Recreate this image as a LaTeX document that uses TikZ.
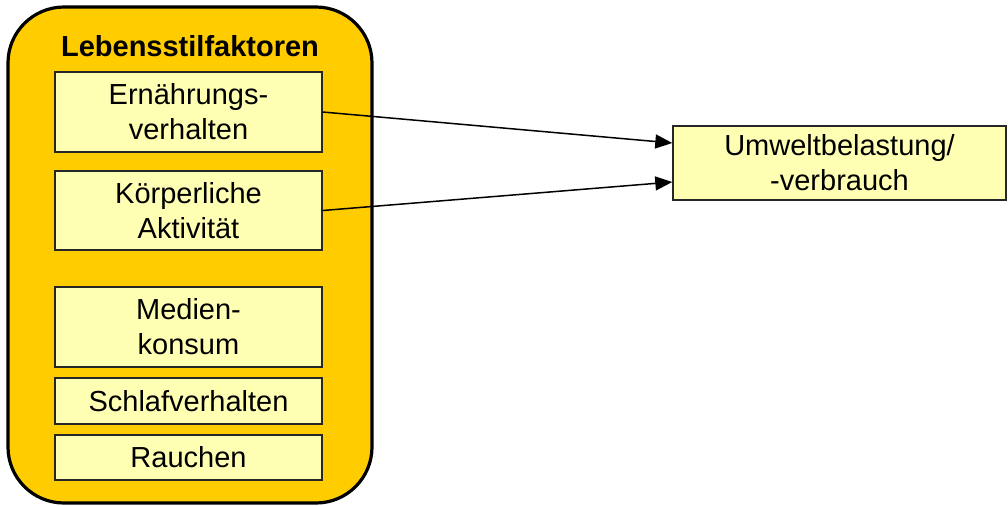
\documentclass[tikz,border=0pt]{standalone}
\usepackage{fontspec}
\setmainfont{Liberation Sans}
\usetikzlibrary{arrows.meta}
\begin{document}
\begin{tikzpicture}[x=0.5pt, y=-0.5pt,
    factor/.style={draw=black!85, line width=0.7pt, fill=paleyellow, minimum width=133.5pt,
        align=center, inner sep=0pt, font=\fontsize{14.5}{17.5}\selectfont},
    link/.style={-{Triangle[length=8.5pt, width=7pt]}, line width=0.75pt}]
    \definecolor{gold}{HTML}{FFCC00}
    \definecolor{paleyellow}{HTML}{FFFFB3}
    \useasboundingbox (0,0) rectangle (1008,505);

    \draw[fill=gold, line width=1.6pt, rounded corners=28pt] (8,7) rectangle (372,503);
    \node[font=\fontsize{14.5}{17.5}\selectfont\bfseries] (title) at (190,46) {Lebensstilfaktoren};

    \node[factor, minimum height=40pt] (ernaehrung) at (188.5,112) {Ernährungs-\\verhalten};
    \node[factor, minimum height=39.5pt] (aktivitaet) at (188.5,210.5) {Körperliche\\ Aktivität};
    \node[factor, minimum height=40pt] (medien) at (188.5,327) {Medien-\\konsum};
    \node[factor, minimum height=23pt] (schlaf) at (188.5,401) {Schlafverhalten};
    \node[factor, minimum height=22.5pt] (rauchen) at (188.5,457.5) {Rauchen};

    \node[factor, minimum width=166.5pt, minimum height=37pt] (umwelt) at (839.5,163) {Umweltbelastung/\\-verbrauch};

    \draw[link] (ernaehrung.east) -- (umwelt.west |- 0,143);
    \draw[link] (aktivitaet.east) -- (umwelt.west |- 0,182);
\end{tikzpicture}
\end{document}
